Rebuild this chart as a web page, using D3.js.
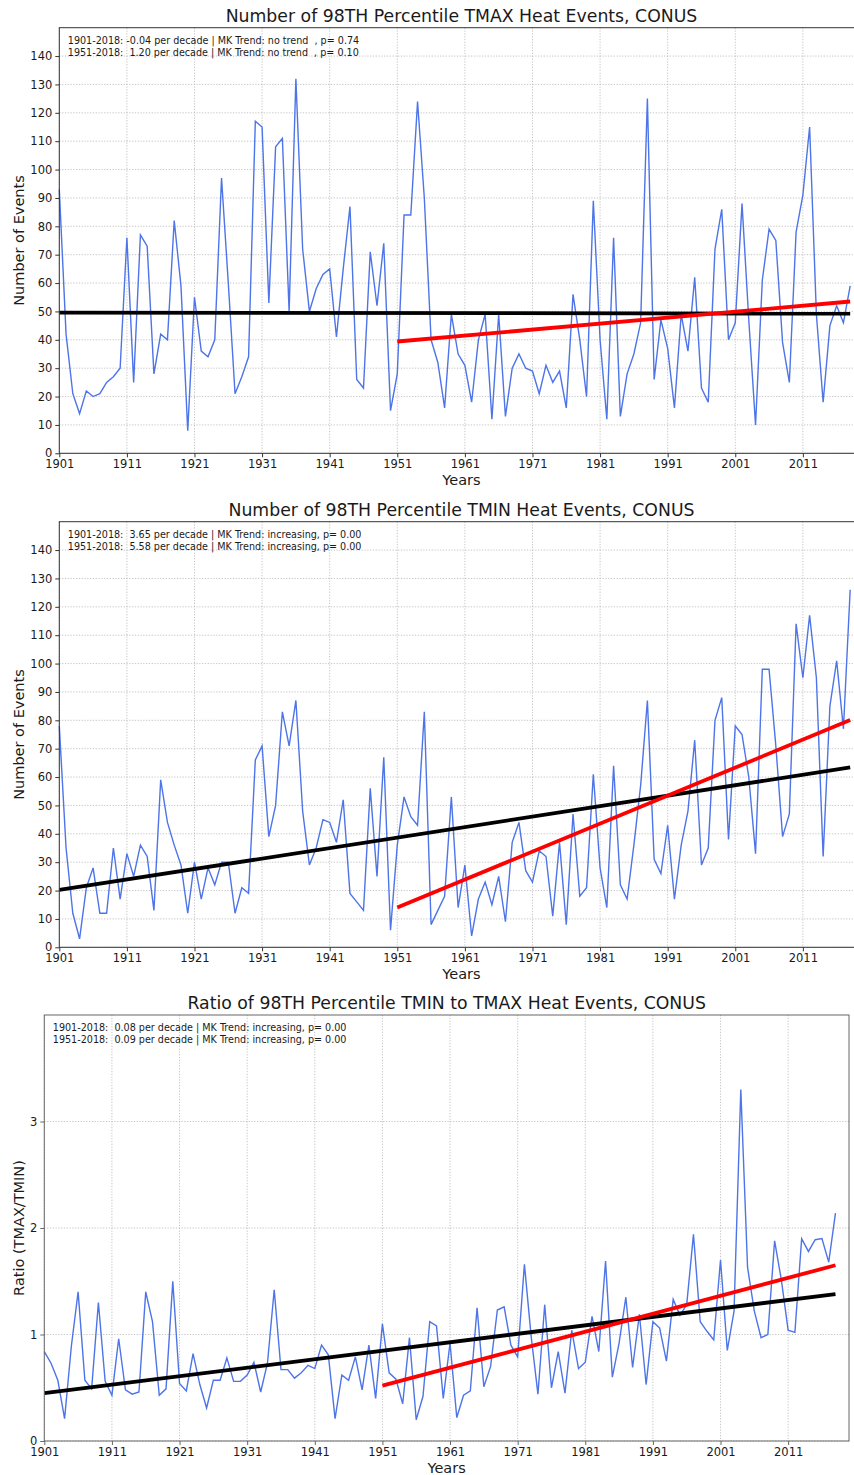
<!DOCTYPE html>
<html>
<head>
<meta charset="utf-8">
<script src="https://cdn.jsdelivr.net/npm/d3@7"></script>
<style>
  body { margin: 0; background: #fff; }
  svg { display: block; }
  text { font-family: "DejaVu Sans", sans-serif; fill: #1a1a1a; }
  .stat { white-space: pre; }
</style>
</head>
<body>
<svg id="chart" width="854" height="1475"></svg>
<script>
// Annual counts of 98th percentile heat events over CONUS, 1901-2018
const years = d3.range(1901, 2019);

const tmaxEvents = [
  93, 42, 21, 14, 22, 20, 21, 25, 27, 30,
  76, 25, 77, 73, 28, 42, 40, 82, 59, 8,
  55, 36, 34, 40, 97, 60, 21, 27, 34, 117,
  115, 53, 108, 111, 50, 132, 72, 50, 58, 63,
  65, 41, 65, 87, 26, 23, 71, 52, 74, 15,
  28, 84, 84, 124, 90, 40, 32, 16, 49, 35,
  31, 18, 40, 49, 12, 49, 13, 30, 35, 30,
  29, 21, 31, 25, 29, 16, 56, 40, 20, 89,
  40, 12, 76, 13, 28, 35, 46, 125, 26, 47,
  37, 16, 49, 36, 62, 23, 18, 72, 86, 40,
  46, 88, 47, 10, 61, 79, 75, 39, 25, 78,
  91, 115, 49, 18, 45, 52, 46, 59
];

const tminEvents = [
  78, 35, 12, 3, 21, 28, 12, 12, 35, 17,
  33, 25, 36, 32, 13, 59, 44, 36, 29, 12,
  30, 17, 28, 22, 30, 30, 12, 21, 19, 66,
  71, 39, 50, 83, 71, 87, 48, 29, 35, 45,
  44, 37, 52, 19, 16, 13, 56, 25, 67, 6,
  36, 53, 46, 43, 83, 8, 13, 18, 53, 14,
  29, 4, 17, 23, 15, 25, 9, 37, 44, 27,
  23, 34, 32, 11, 37, 8, 47, 18, 21, 61,
  28, 14, 64, 22, 17, 36, 57, 87, 31, 26,
  43, 17, 36, 48, 73, 29, 35, 80, 88, 38,
  78, 75, 60, 33, 98, 98, 71, 39, 47, 114,
  95, 117, 95, 32, 85, 101, 77, 126
];

const ratioValues = [
  0.84, 0.73, 0.57, 0.21, 0.89, 1.40, 0.57, 0.49, 1.30, 0.56,
  0.43, 0.96, 0.48, 0.44, 0.46, 1.40, 1.12, 0.43, 0.49, 1.50,
  0.54, 0.47, 0.82, 0.53, 0.31, 0.57, 0.57, 0.78, 0.56, 0.56,
  0.62, 0.74, 0.46, 0.73, 1.42, 0.67, 0.67, 0.59, 0.64, 0.71,
  0.68, 0.90, 0.81, 0.21, 0.62, 0.57, 0.79, 0.48, 0.90, 0.40,
  1.10, 0.64, 0.58, 0.35, 0.97, 0.20, 0.42, 1.12, 1.08, 0.40,
  0.92, 0.22, 0.43, 0.47, 1.25, 0.51, 0.70, 1.23, 1.26, 0.90,
  0.79, 1.66, 0.98, 0.44, 1.28, 0.50, 0.84, 0.45, 1.04, 0.68,
  0.74, 1.17, 0.84, 1.69, 0.60, 0.92, 1.35, 0.69, 1.19, 0.53,
  1.12, 1.06, 0.75, 1.33, 1.18, 1.28, 1.94, 1.12, 1.03, 0.95,
  1.70, 0.85, 1.22, 3.30, 1.63, 1.22, 0.97, 1.00, 1.88, 1.51,
  1.04, 1.02, 1.90, 1.78, 1.89, 1.90, 1.68, 2.14
];

// Fitted trend lines: [value at start year, value at 2018]
const fullPeriod = [1901, 2018];
const recentPeriod = [1951, 2018];
const tmaxFullTrend = [49.6, 49.2];
const tmaxRecentTrend = [39.4, 53.5];
const tminFullTrend = [20.2, 63.4];
const tminRecentTrend = [14.0, 80.1];
const ratioFullTrend = [0.45, 1.38];
const ratioRecentTrend = [0.52, 1.65];

// Axis ticks
const yearTicks = d3.range(1901, 2012, 10);
const countTicks = d3.range(0, 150, 10);
const ratioTicks = [0, 1, 2, 3];

const titles = [
  "Number of 98TH Percentile TMAX Heat Events, CONUS",
  "Number of 98TH Percentile TMIN Heat Events, CONUS",
  "Ratio of 98TH Percentile TMIN to TMAX Heat Events, CONUS"
];
const yLabels = ["Number of Events", "Number of Events", "Ratio (TMAX/TMIN)"];
const statLines = [
  ["1901-2018: -0.04 per decade | MK Trend: no trend  , p= 0.74",
   "1951-2018:  1.20 per decade | MK Trend: no trend  , p= 0.10"],
  ["1901-2018:  3.65 per decade | MK Trend: increasing, p= 0.00",
   "1951-2018:  5.58 per decade | MK Trend: increasing, p= 0.00"],
  ["1901-2018:  0.08 per decade | MK Trend: increasing, p= 0.00",
   "1951-2018:  0.09 per decade | MK Trend: increasing, p= 0.00"]
];

const panels = [
  { frame: { left: 59.3, right: 863.7, top: 27.7, bottom: 453.3 }, spine: "#333",
    series: tmaxEvents, yMax: 150, yTicks: countTicks,
    full: tmaxFullTrend, recent: tmaxRecentTrend },
  { frame: { left: 59.3, right: 863.7, top: 521.7, bottom: 947.3 }, spine: "#333",
    series: tminEvents, yMax: 150, yTicks: countTicks,
    full: tminFullTrend, recent: tminRecentTrend },
  { frame: { left: 44.3, right: 849, top: 1015, bottom: 1441 }, spine: "#666",
    series: ratioValues, yMax: 4, yTicks: ratioTicks,
    full: ratioFullTrend, recent: ratioRecentTrend }
];

const svg = d3.select("#chart");

panels.forEach((p, i) => {
  const f = p.frame;
  const x = d3.scaleLinear().domain([1901, 2020]).range([f.left, f.right]);
  const y = d3.scaleLinear().domain([0, p.yMax]).range([f.bottom, f.top]);
  const g = svg.append("g");

  // dotted grid
  const grid = g.append("g").attr("stroke", "#b4b4b4").attr("stroke-width", 0.8)
    .attr("stroke-dasharray", "1.2,1.6");
  grid.selectAll("line.v").data(yearTicks).join("line")
    .attr("x1", d => x(d)).attr("x2", d => x(d))
    .attr("y1", f.top).attr("y2", f.bottom);
  grid.selectAll("line.h").data(p.yTicks).join("line")
    .attr("x1", f.left).attr("x2", f.right)
    .attr("y1", d => y(d)).attr("y2", d => y(d));

  // series
  const line = d3.line().x((d, k) => x(years[k])).y(d => y(d));
  g.append("path").datum(p.series)
    .attr("fill", "none").attr("stroke", "#4d74e8").attr("stroke-width", 1.4)
    .attr("stroke-linejoin", "miter").attr("d", line);

  // trend lines
  const trend = (period, vals, color) => g.append("line")
    .attr("x1", x(period[0])).attr("y1", y(vals[0]))
    .attr("x2", x(period[1])).attr("y2", y(vals[1]))
    .attr("stroke", color).attr("stroke-width", 3.8);
  trend(fullPeriod, p.full, "#000");
  trend(recentPeriod, p.recent, "#ff0000");

  // frame
  g.append("rect").attr("x", f.left).attr("y", f.top)
    .attr("width", f.right - f.left).attr("height", f.bottom - f.top)
    .attr("fill", "none").attr("stroke", p.spine).attr("stroke-width", 1);

  // axes
  const xAxis = d3.axisBottom(x).tickValues(yearTicks).tickFormat(d3.format("d"))
    .tickSizeOuter(0).tickSize(4).tickPadding(3);
  const gx = g.append("g").attr("transform", `translate(0,${f.bottom})`).call(xAxis);
  const yAxis = d3.axisLeft(y).tickValues(p.yTicks).tickFormat(d3.format("d"))
    .tickSizeOuter(0).tickSize(4).tickPadding(3);
  const gy = g.append("g").attr("transform", `translate(${f.left},0)`).call(yAxis);
  [gx, gy].forEach(a => {
    a.select(".domain").remove();
    a.selectAll(".tick line").attr("stroke", p.spine);
    a.selectAll(".tick text").attr("font-size", 11.5).attr("fill", "#1a1a1a")
      .style("font-family", '"DejaVu Sans", sans-serif');
  });

  const cx = (f.left + f.right) / 2;
  g.append("text").attr("x", cx).attr("y", f.top - 6)
    .attr("text-anchor", "middle").attr("font-size", 17.3).text(titles[i]);
  g.append("text").attr("x", cx).attr("y", f.bottom + 32)
    .attr("text-anchor", "middle").attr("font-size", 14.5).text("Years");
  g.append("text")
    .attr("transform", `translate(24,${(f.top + f.bottom) / 2}) rotate(-90)`)
    .attr("text-anchor", "middle").attr("font-size", 14.5).text(yLabels[i]);

  statLines[i].forEach((s, k) => {
    g.append("text").attr("class", "stat")
      .attr("x", f.left + 8.5).attr("y", f.top + 15.8 + k * 12.4)
      .attr("font-size", 9.6).text(s);
  });
});
</script>
</body>
</html>
